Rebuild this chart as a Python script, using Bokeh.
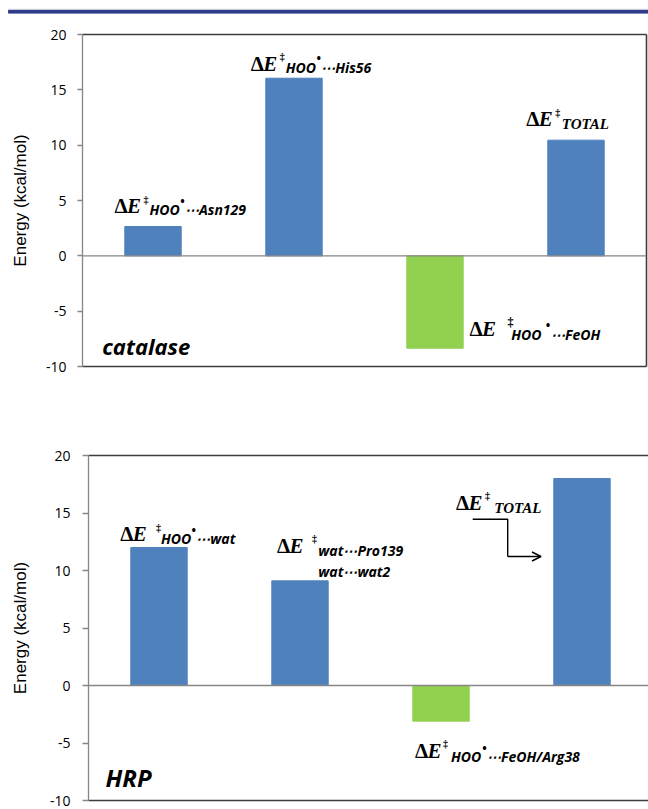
from bokeh.plotting import figure
from bokeh.models import Range1d, Span, Label, LinearAxis, FixedTicker, Arrow, OpenHead, ColumnDataSource
from bokeh.embed import file_html
from bokeh.resources import INLINE

# ---------------- data ----------------
catalase_terms = ["HOO···Asn129", "HOO···His56", "HOO···FeOH", "TOTAL"]
catalase_values = [2.65, 16.05, -8.35, 10.45]
hrp_terms = ["HOO···wat", "wat···Pro139 / wat···wat2", "HOO···FeOH/Arg38", "TOTAL"]
hrp_values = [12.0, 9.1, -3.1, 18.0]
bar_kind = ["pos", "pos", "neg", "pos"]
y_ticks = [-10, -5, 0, 5, 10, 15, 20]
y_tick_labels = ["-10", "-5", "0", "5", "10", "15", "20"]
y_label = "Energy (kcal/mol)"

BLUE = "#4f81bd"
GREEN = "#92d050"
AXIS_GRAY = "#868686"
BORDER = "#3c3c3c"

SERIF = "Liberation Serif"
SANS = "Open Sans"
SUB = 14


def make_chart(values, height, b_left, b_right, b_top, b_bottom, x_end, tick_out,
               lab_standoff, title_standoff, right_border):
    p = figure(width=648, height=height, x_range=Range1d(-0.5, x_end),
               y_range=Range1d(-10, 20), output_backend="svg",
               toolbar_location=None, tools="", x_axis_location=None,
               min_border_left=b_left, min_border_right=b_right,
               min_border_top=b_top, min_border_bottom=b_bottom)
    p.outline_line_color = None
    p.grid.visible = False
    p.background_fill_color = "white"
    p.border_fill_color = "white"

    ax = p.yaxis[0]
    ax.ticker = FixedTicker(ticks=y_ticks)
    ax.major_label_overrides = {t: s for t, s in zip(y_ticks, y_tick_labels)}
    ax.axis_line_color = AXIS_GRAY
    ax.axis_line_width = 1.3
    ax.major_tick_line_color = AXIS_GRAY
    ax.major_tick_line_width = 1.3
    ax.major_tick_out = tick_out
    ax.major_tick_in = 0
    ax.minor_tick_line_color = None
    ax.major_label_text_font = SANS
    ax.major_label_text_font_size = "14px"
    ax.major_label_text_color = "black"
    ax.major_label_standoff = lab_standoff
    ax.axis_label = y_label
    ax.axis_label_text_font = "Liberation Sans"
    ax.axis_label_text_font_size = "17px"
    ax.axis_label_text_font_style = "normal"
    ax.axis_label_text_color = "black"
    ax.axis_label_standoff = title_standoff

    sides = ["above", "below"] + (["right"] if right_border else [])
    for side in sides:
        b = LinearAxis(ticker=FixedTicker(ticks=[]), axis_line_color=BORDER,
                       axis_line_width=1.6, major_tick_line_color=None,
                       minor_tick_line_color=None, major_label_standoff=0,
                       major_tick_out=0, major_label_text_font_size="0px")
        p.add_layout(b, side)

    src = ColumnDataSource(dict(
        x=list(range(len(values))), top=values,
        color=[GREEN if k == "neg" else BLUE for k in bar_kind]))
    p.vbar(x="x", top="top", bottom=0, width=0.4, fill_color="color",
           line_color="color", source=src)
    p.add_layout(Span(location=0, dimension="width", line_color=AXIS_GRAY,
                      line_width=1.4))
    return p


def txt(p, x, y, dx, dy, text, font, size, style="bold",
        align="left", baseline="alphabetic"):
    p.add_layout(Label(x=x, y=y, x_offset=dx, y_offset=dy, text=text,
                       text_font=font, text_font_size=f"{size}px",
                       text_font_style=style, text_align=align,
                       text_baseline=baseline, text_color="black"))


def delta_label(p, x, y, dx, dy, subs, dag_dx=29, dag_dy=7, dag_size=10,
                sub_dx=35, sub_dy=-3.6, dot_dx=None, rest=None, rest_dx=None,
                sub_font=SANS, sub_size=SUB):
    txt(p, x, y, dx, dy, "Δ", SERIF, 21, "bold")
    txt(p, x, y, dx + 12.5, dy, "E", SERIF, 21, "bold italic")
    txt(p, x, y, dx + dag_dx, dy + dag_dy, "‡", SERIF, dag_size, "bold")
    for i, s in enumerate(subs):
        txt(p, x, y, dx + sub_dx, dy + sub_dy - 21 * i, s, sub_font, sub_size, "bold italic")
    if dot_dx is not None:
        txt(p, x, y, dx + dot_dx, dy + sub_dy + 8.5, "•", SANS, 12, "bold",
            align="center")
    if rest is not None:
        txt(p, x, y, dx + rest_dx, dy + sub_dy, rest, SANS, SUB, "bold italic")


# ---------------- header rule ----------------
h = figure(width=648, height=20, x_range=Range1d(0, 648), y_range=Range1d(0, 20),
           output_backend="svg", toolbar_location=None, tools="",
           x_axis_location=None, y_axis_location=None, min_border=0)
h.outline_line_color = None
h.grid.visible = False
h.background_fill_color = "white"
h.border_fill_color = "white"
h.quad(left=8, right=648, top=11.2, bottom=10.3, color="#c9cbd8")
h.quad(left=8, right=648, top=10.0, bottom=7.4, color="#2e3c8c")

# ---------------- catalase ----------------
p1 = make_chart(catalase_values, 390, 82, 2, 14, 44, 3.5, 5, 11, 13, True)
v = catalase_values
delta_label(p1, 0, v[0], -38.5, 20.3, ["HOO"], dot_dx=68, rest="⋯Asn129", rest_dx=70.5)
delta_label(p1, 1, v[1], -43.3, 14.4, ["HOO"], dot_dx=68, rest="⋯His56", rest_dx=70.5)
delta_label(p1, 2, v[2], 34.5, 19.6, ["HOO"], dag_dx=38, dag_dy=7, dag_size=12,
            sub_dx=41.7, sub_dy=-5.6, dot_dx=78.5, rest="⋯FeOH", rest_dx=81.5)
delta_label(p1, 3, v[3], -49.8, 21, ["TOTAL"], sub_dx=35.6, sub_dy=-5,
            sub_font=SERIF, sub_size=15)
txt(p1, -0.5, -10, 19.7, 20.3, "catalase", SANS, 22, "bold italic")

# ---------------- HRP ----------------
FW2 = 648 - 88 - 0
XEND2 = -0.5 + FW2 / 141.0
FH2 = 399 - 45 - 9
p2 = make_chart(hrp_values, 399, 88, 0, 45, 9, XEND2, 6, 12, 17, False)
w = hrp_values
delta_label(p2, 0, w[0], -38.7, 13.3, ["HOO"], dag_dx=35.7, sub_dx=40.7, sub_dy=-4.3,
            dot_dx=73.5, rest="⋯wat", rest_dx=76)
delta_label(p2, 1, w[1], -23, 35, ["wat⋯Pro139", "wat⋯wat2"], dag_dx=35,
            sub_dx=41.3, sub_dy=-5)
delta_label(p2, 2, w[2], -26, -29.6, ["HOO"], dag_dx=28, sub_dx=36, sub_dy=-6,
            dot_dx=69.5, rest="⋯FeOH/Arg38", rest_dx=72)
delta_label(p2, 3, w[3], -126, -24, ["TOTAL"], sub_dx=38.3, sub_dy=-5.7,
            sub_font=SERIF, sub_size=15)
txt(p2, -0.5, -10, 17, 23, "HRP", SANS, 24, "bold italic")

# callout arrow from the TOTAL label to the TOTAL bar (pixel offsets -> data)
sx = 141.0
sy = FH2 / 30.0
ax0, ay0 = 3 - 126 / sx, w[3] - 24 / sy
pts = [(16.7, -16.7), (51.7, -16.7), (51.7, -54), (85, -54)]
xs = [ax0 + px / sx for px, _ in pts]
ys = [ay0 + py / sy for _, py in pts]
p2.line(xs[:3], ys[:3], line_color="black", line_width=1.4)
p2.add_layout(Arrow(x_start=xs[2], y_start=ys[2], x_end=xs[3], y_end=ys[3],
                    line_color="black", line_width=1.4,
                    end=OpenHead(size=9, line_width=1.4, line_color="black")))

open("out.html", "w").write(file_html([h, p1, p2], INLINE))
